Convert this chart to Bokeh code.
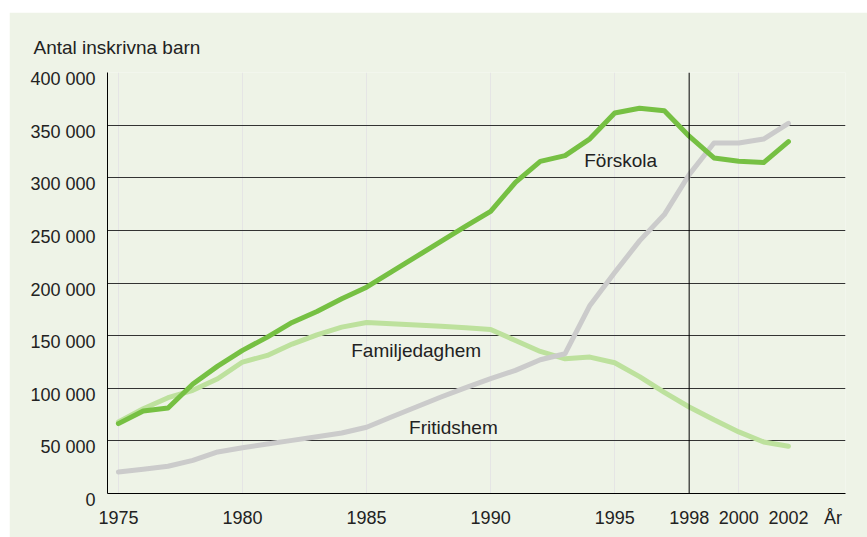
from bokeh.plotting import figure
from bokeh.models import FixedTicker, Span, Grid, LinearAxis, ColumnDataSource, Spacer
from bokeh.layouts import column, row
from bokeh.core.properties import value
from bokeh.embed import file_html
from bokeh.resources import INLINE

years = list(range(1975, 2003))
forskola = [66400, 78400, 81200, 104000, 121000, 136000, 148600, 162500, 173000, 185000,
            196000, 210500, 225000, 239500, 254000, 268000, 295600, 315500, 321000, 337000,
            361500, 366000, 363700, 339500, 318800, 315600, 314400, 334300]
familjedaghem = [68000, 80600, 91000, 98000, 109000, 124900, 131200, 142000, 150800, 158100,
                 162500, 161200, 160000, 158800, 157500, 155900, 145400, 135000, 128000, 129600,
                 124200, 111000, 96000, 82200, 70000, 58500, 49000, 44900]
fritidshem = [20500, 23000, 25900, 31500, 39500, 43500, 47000, 50500, 54000, 57500,
              63000, 72700, 82200, 91700, 100600, 109100, 117000, 127100, 132800, 178700,
              210000, 240000, 265000, 303000, 333000, 333000, 336800, 351600]

y_ticks = [0, 50000, 100000, 150000, 200000, 250000, 300000, 350000, 400000]
y_tick_labels = ["0", "50 000", "100 000", "150 000", "200 000", "250 000", "300 000", "350 000", "400 000"]
x_ticks = [1975, 1980, 1985, 1990, 1995, 1998, 2000, 2002]
x_unit_pos = 2003.8
x_unit_label = "År"
marker_year = 1998

series_names = ["Förskola", "Familjedaghem", "Fritidshem"]
label_x = [1995.24, 1987.0, 1988.5]
label_y = [316000, 136000, 63000]

BG = "#eef3e7"
FONT = "Liberation Sans"
TXT = "#222222"

p = figure(width=858, height=525, output_backend="svg", toolbar_location=None,
           x_range=(1974.56, 2004.3), y_range=(0, 400000),
           y_axis_location=None, x_axis_location=None,
           background_fill_color=BG, border_fill_color=BG,
           min_border_left=98, min_border_right=22, min_border_top=60, min_border_bottom=44)
p.outline_line_color = None

# y axis (labels sit just below their grid line, as in the original)
ya = LinearAxis(ticker=FixedTicker(ticks=y_ticks))
ya.major_label_overrides = {t: "\n" + l for t, l in zip(y_ticks, y_tick_labels)}
ya.major_tick_out = 0
ya.major_tick_in = 0
ya.minor_tick_out = 0
ya.minor_tick_in = 0
ya.major_label_standoff = 12
ya.major_label_text_font = FONT
ya.major_label_text_font_size = "18px"
ya.major_label_text_line_height = 0.66
ya.major_label_text_color = TXT
ya.axis_line_color = "#000000"
ya.axis_line_width = 1
p.add_layout(ya, "left")

# x axis
xa = LinearAxis(ticker=FixedTicker(ticks=x_ticks + [x_unit_pos]))
xa.major_label_overrides = {t: str(t) for t in x_ticks}
xa.major_label_overrides[x_unit_pos] = x_unit_label
xa.major_tick_out = 0
xa.major_tick_in = 0
xa.minor_tick_out = 0
xa.minor_tick_in = 0
xa.major_label_standoff = 14
xa.major_label_text_font = FONT
xa.major_label_text_font_size = "18px"
xa.major_label_text_color = TXT
xa.axis_line_color = "#000000"
xa.axis_line_width = 1
p.add_layout(xa, "below")

g = Grid(dimension=1, ticker=FixedTicker(ticks=y_ticks[1:]))
g.grid_line_color = "#333333"
g.grid_line_width = 1
p.add_layout(g)

p.add_layout(Span(location=marker_year, dimension="height", line_color="#000000", line_width=1))

p.title.text = "Antal inskrivna barn"
p.title.align = "left"
p.title.offset = -74
p.title.text_font = FONT
p.title.text_font_size = "19px"
p.title.text_font_style = "normal"
p.title.text_color = TXT
p.title.standoff = 30

lw = 5
p.line(years, familjedaghem, line_color="#bde19d", line_width=lw, line_cap="round", line_join="round")
p.line(years, fritidshem, line_color="#cbcbcb", line_width=lw, line_cap="round", line_join="round")
p.line(years, forskola, line_color="#76c043", line_width=lw, line_cap="round", line_join="round")

src = ColumnDataSource(dict(x=label_x, y=label_y, t=series_names))
p.text(x="x", y="y", text="t", source=src, text_font=value(FONT), text_font_size="19px",
       text_color=TXT, text_align="center", text_baseline="middle")

layout = column(Spacer(height=12), row(Spacer(width=9), p))
open("out.html", "w").write(file_html(layout, INLINE))
